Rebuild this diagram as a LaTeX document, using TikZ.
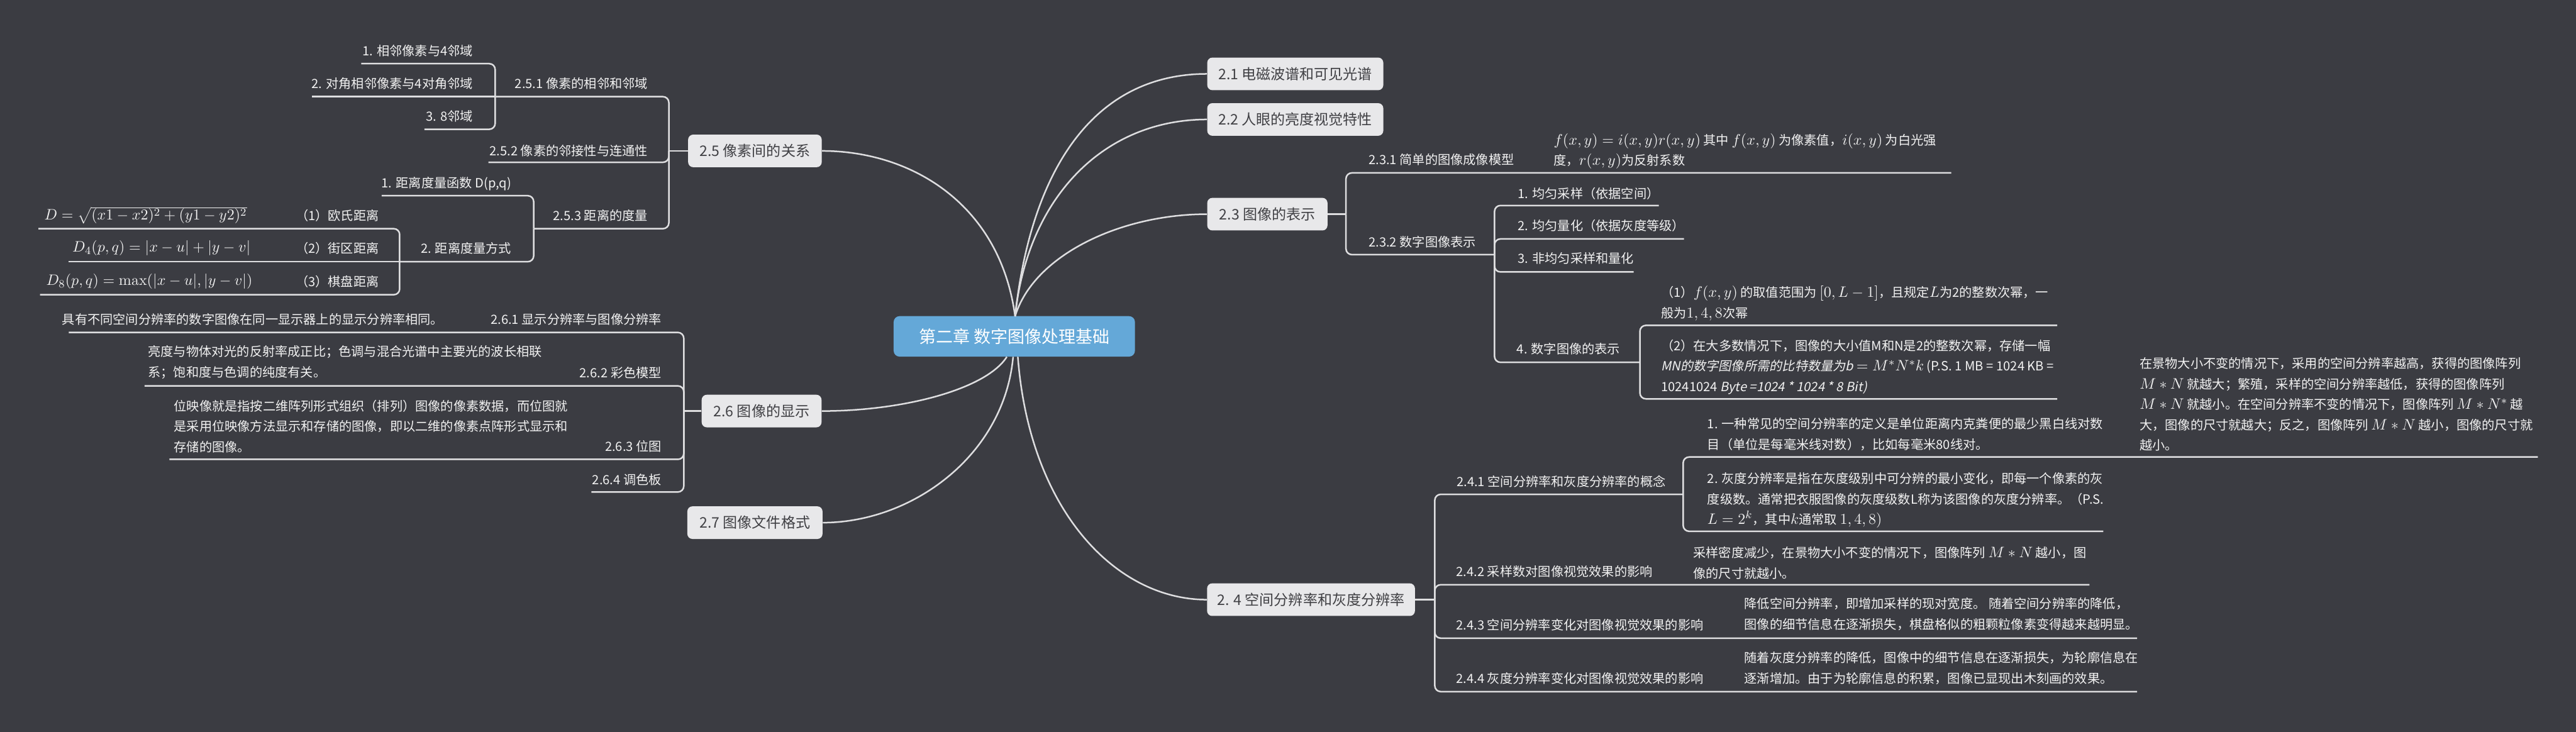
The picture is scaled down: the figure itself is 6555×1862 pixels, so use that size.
\documentclass[tikz,border=0pt]{standalone}
\usepackage[no-math]{fontspec}
\setmainfont[AutoFakeSlant=0.2]{Noto Sans CJK SC}
\definecolor{bg}{RGB}{59,60,66}
\definecolor{ln}{RGB}{222,222,224}
\definecolor{boxc}{RGB}{232,232,234}
\definecolor{boxt}{RGB}{64,64,68}
\definecolor{cen}{RGB}{100,168,216}
\definecolor{lt}{RGB}{242,242,242}
\newcommand\fsL{\fontsize{9.2pt}{14.8pt}\selectfont}
\newcommand\fsB{\fontsize{10.5pt}{12pt}\selectfont}
\newcommand\fsC{\fontsize{12.3pt}{14pt}\selectfont}
\newcommand\mth[1]{{\fontsize{11.1pt}{14.8pt}\selectfont$#1$}}
\tikzset{
  conn/.style={draw=ln, line width=0.4mm},
  tree/.style={draw=ln, line width=0.4mm, rounded corners=1.5mm},
  central/.style={fill=cen, text=white, rounded corners=1.5mm, minimum height=10.3mm, font=\fsC, inner sep=0pt},
  branch/.style={fill=boxc, text=boxt, rounded corners=1.3mm, minimum height=8.3mm, font=\fsB, inner sep=0pt},
  leafR/.style={text=lt, font=\fsL, inner sep=0pt, anchor=west, align=left},
  leafL/.style={text=lt, font=\fsL, inner sep=0pt, anchor=east, align=right},
}
\begin{document}
\begin{tikzpicture}[x=0.1mm, y=-0.1mm]
\fill[bg] (0,0) rectangle (6555,1862);
\useasboundingbox (0,0) rectangle (6555,1862);

% ---------- central and main branches
\node[central, minimum width=61.4mm] (c) at (2581,856) {第二章 数字图像处理基础};
\node[branch, minimum width=44.8mm] (b21) at (3296,188) {2.1 电磁波谱和可见光谱};
\node[branch, minimum width=44.8mm] (b22) at (3296,304) {2.2 人眼的亮度视觉特性};
\node[branch, minimum width=30.6mm] (b23) at (3225,545) {2.3 图像的表示};
\node[branch, minimum width=52.9mm] (b24) at (3336,1526) {2. 4 空间分辨率和灰度分辨率};
\node[branch, minimum width=34.0mm] (b25) at (1921,384) {2.5 像素间的关系};
\node[branch, minimum width=30.5mm] (b26) at (1938,1046) {2.6 图像的显示};
\node[branch, minimum width=34.4mm] (b27) at (1921,1330) {2.7 图像文件格式};

\coordinate (ct) at (2583,805);
\coordinate (cbl) at (2562,908);
\coordinate (cbm) at (2578,908);
\coordinate (cbr) at (2590,908);
\draw[conn] (ct) .. controls (2625,420) and (2790,188) .. (b21.west);
\draw[conn] (ct) .. controls (2615,500) and (2810,304) .. (b22.west);
\draw[conn] (ct) .. controls (2630,650) and (2850,545) .. (b23.west);
\draw[conn] (cbr) .. controls (2620,1300) and (2840,1526) .. (b24.west);
\draw[conn] (ct) .. controls (2545,520) and (2320,384) .. (b25.east);
\draw[conn] (cbl) .. controls (2510,990) and (2300,1046) .. (b26.east);
\draw[conn] (cbm) .. controls (2555,1160) and (2320,1330) .. (b27.east);

% ---------- 2.3
\coordinate (j23) at (3425,545);
\draw[conn] (b23.east) -- (j23);
\node[leafR] (t231) at (3482,407) {2.3.1 简单的图像成像模型};
\node[leafR] (c231) at (3953,385) {\mth{f(x,y)=i(x,y)r(x,y)} 其中 \mth{f(x,y)} 为像素值，\mth{i(x,y)} 为白光强\\度，\mth{r(x,y)}为反射系数};
\coordinate (e231) at (4965,440);
\draw[tree] (j23) |- (e231);
\node[leafR] (t232) at (3482,616) {2.3.2 数字图像表示};
\coordinate (j232) at (3803,648);
\draw[tree] (j23) |- (j232);
\node[leafR] (n1) at (3862,492) {1. 均匀采样（依据空间）};
\node[leafR] (n2) at (3862,575) {2. 均匀量化（依据灰度等级）};
\node[leafR] (n3) at (3862,658) {3. 非均匀采样和量化};
\node[leafR] (n4) at (3859,888) {4. 数字图像的表示};
\coordinate (en1) at (4221,523);
\coordinate (en2) at (4285,608);
\coordinate (en3) at (4157,692);
\coordinate (j4) at (4173,922);
\draw[tree] (j232) |- (en1);
\draw[tree] (j232) |- (en2);
\draw[tree] (j232) |- (en3);
\draw[tree] (j232) |- (j4);
\node[leafR] (p1) at (4226,772) {（1）\mth{f(x,y)} 的取值范围为 \mth{[0,L-1]}，且规定\mth{L}为2的整数次幂，一\\般为\mth{1,4,8}次幂};
\node[leafR] (p2) at (4226,934) {（2）在大多数情况下，图像的大小值M和N是2的整数次幂，存储一幅\\{\itshape MN的数字图像所需的比特数量为b} \mth{=M^*N^*k} (P.S. 1 MB = 1024 KB =\\10241024 {\itshape Byte =1024 * 1024 * 8 Bit)}};
\coordinate (ep1) at (5235,828);
\coordinate (ep2) at (5235,1015);
\draw[tree] (j4) |- (ep1);
\draw[tree] (j4) |- (ep2);

% ---------- 2.4
\coordinate (j24) at (3651,1526);
\draw[conn] (b24.east) -- (j24);
\node[leafR] (t241) at (3706,1225) {2.4.1 空间分辨率和灰度分辨率的概念};
\coordinate (j241) at (4283,1258);
\draw[tree] (j24) |- (j241);
\node[leafR] (q1) at (4344,1105) {1. 一种常见的空间分辨率的定义是单位距离内克粪便的最少黑白线对数\\目（单位是每毫米线对数），比如每毫米80线对。};
\node[leafR] (r1) at (5444,1029) {在景物大小不变的情况下，采用的空间分辨率越高，获得的图像阵列\\\mth{M\ast N} 就越大；繁殖，采样的空间分辨率越低，获得的图像阵列\\\mth{M\ast N} 就越小。在空间分辨率不变的情况下，图像阵列 \mth{M\ast N^*} 越\\大，图像的尺寸就越大；反之，图像阵列 \mth{M\ast N} 越小，图像的尺寸就\\越小。};
\coordinate (eq1) at (6458,1163);
\draw[tree] (j241) |- (eq1);
\node[leafR] (q2) at (4344,1273) {2. 灰度分辨率是指在灰度级别中可分辨的最小变化，即每一个像素的灰\\度级数。通常把衣服图像的灰度级数L称为该图像的灰度分辨率。（P.S.\\\mth{L=2^k}，其中\mth{k}通常取 \mth{1,4,8)}};
\coordinate (eq2) at (5352,1352);
\draw[tree] (j241) |- (eq2);

\node[leafR] (t242) at (3705,1454) {2.4.2 采样数对图像视觉效果的影响};
\node[leafR] (s242) at (4308,1433) {采样密度减少，在景物大小不变的情况下，图像阵列 \mth{M\ast N} 越小，图\\像的尺寸就越小。};
\coordinate (e242) at (5317,1488);
\draw[tree] (j24) |- (e242);
\node[leafR] (t243) at (3705,1590) {2.4.3 空间分辨率变化对图像视觉效果的影响};
\node[leafR] (s243) at (4438,1563) {降低空间分辨率，即增加采样的现对宽度。 随着空间分辨率的降低，\\图像的细节信息在逐渐损失，棋盘格似的粗颗粒像素变得越来越明显。};
\coordinate (e243) at (5438,1624);
\draw[tree] (j24) |- (e243);
\node[leafR] (t244) at (3705,1726) {2.4.4 灰度分辨率变化对图像视觉效果的影响};
\node[leafR] (s244) at (4438,1700) {随着灰度分辨率的降低，图像中的细节信息在逐渐损失，为轮廓信息在\\逐渐增加。由于为轮廓信息的积累，图像已显现出木刻画的效果。};
\coordinate (e244) at (5438,1760);
\draw[tree] (j24) |- (e244);

% ---------- 2.5
\coordinate (j25) at (1702,384);
\draw[conn] (b25.west) -- (j25);
\node[leafL] (t251) at (1649,213) {2.5.1 像素的相邻和邻域};
\coordinate (j251) at (1260,246);
\draw[tree] (j25) |- (j251);
\node[leafL] (a1) at (1204,130) {1. 相邻像素与4邻域};
\node[leafL] (a2) at (1204,213) {2. 对角相邻像素与4对角邻域};
\node[leafL] (a3) at (1204,295) {3. 8邻域};
\coordinate (ea1) at (919,162);
\coordinate (ea2) at (793,246);
\coordinate (ea3) at (1080,329);
\draw[tree] (j251) |- (ea1);
\draw[conn] (j251) -- (ea2);
\draw[tree] (j251) |- (ea3);
\node[leafL] (t252) at (1649,383) {2.5.2 像素的邻接性与连通性};
\coordinate (e252) at (1243,413);
\draw[tree] (j25) |- (e252);
\node[leafL] (t253) at (1649,548) {2.5.3 距离的度量};
\coordinate (j253) at (1358,582);
\draw[tree] (j25) |- (j253);
\node[leafL] (d1) at (1302,468) {1. 距离度量函数 D(p,q)};
\coordinate (ed1) at (971,498);
\draw[tree] (j253) |- (ed1);
\node[leafL] (d2) at (1302,632) {2. 距离度量方式};
\coordinate (j2d) at (1017,666);
\draw[tree] (j253) |- (j2d);
\node[leafL] (e1) at (965,548) {（1）欧氏距离};
\node[leafL] (e2) at (965,632) {（2）街区距离};
\node[leafL] (e3) at (965,716) {（3）棋盘距离};
\node[leafL] (f1) at (629,548) {\mth{D=\sqrt{(x1-x2)^2+(y1-y2)^2}}};
\node[leafL] (f2) at (638,632) {\mth{D_4(p,q)=|x-u|+|y-v|}};
\node[leafL] (f3) at (643,716) {\mth{D_8(p,q)=\max(|x-u|,|y-v|)}};
\coordinate (ee1) at (98,582);
\coordinate (ee2) at (175,666);
\coordinate (ee3) at (102,750);
\draw[tree] (j2d) |- (ee1);
\draw[conn] (j2d) -- (ee2);
\draw[tree] (j2d) |- (ee3);

% ---------- 2.6
\coordinate (j26) at (1740,1046);
\draw[conn] (b26.west) -- (j26);
\node[leafL] (t261) at (1684,813) {2.6.1 显示分辨率与图像分辨率};
\node[leafL] (g1) at (1129,813) {具有不同空间分辨率的数字图像在同一显示器上的显示分辨率相同。};
\coordinate (e261) at (175,846);
\draw[tree] (j26) |- (e261);
\node[leafL] (t262) at (1684,948) {2.6.2 彩色模型};
\node[leafR] (g2) at (376,922) {亮度与物体对光的反射率成正比；色调与混合光谱中主要光的波长相联\\系；饱和度与色调的纯度有关。};
\coordinate (e262) at (368,982);
\draw[tree] (j26) |- (e262);
\node[leafL] (t263) at (1684,1136) {2.6.3 位图};
\node[leafR] (g3) at (442,1085) {位映像就是指按二维阵列形式组织（排列）图像的像素数据，而位图就\\是采用位映像方法显示和存储的图像，即以二维的像素点阵形式显示和\\存储的图像。};
\coordinate (e263) at (431,1169);
\draw[tree] (j26) |- (e263);
\node[leafL] (t264) at (1684,1220) {2.6.4 调色板};
\coordinate (e264) at (1505,1252);
\draw[tree] (j26) |- (e264);
\end{tikzpicture}
\end{document}
